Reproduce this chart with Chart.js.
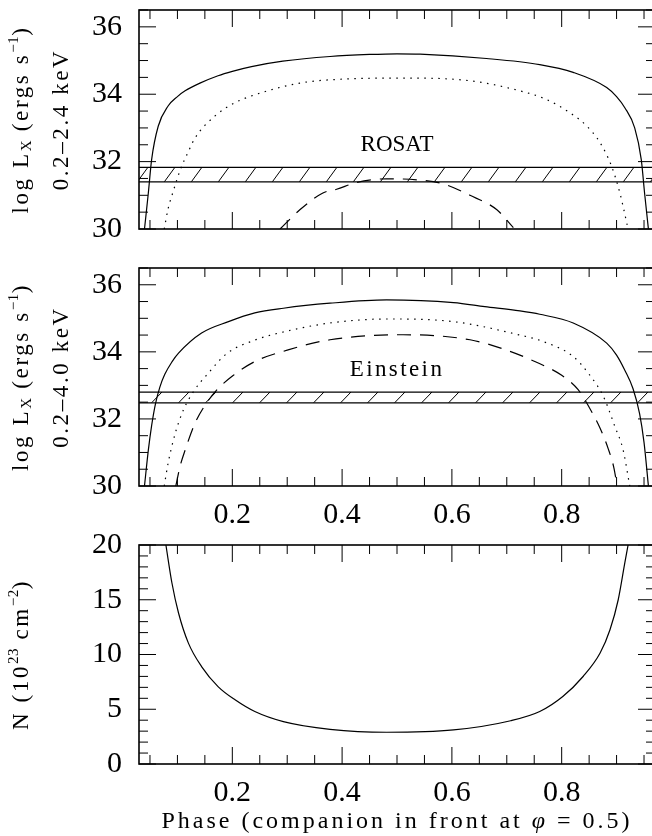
<!DOCTYPE html>
<html>
<head>
<meta charset="utf-8">
<script src="https://cdn.jsdelivr.net/npm/chart.js@4.4.0/dist/chart.umd.min.js"></script>
<style>
  html, body { margin: 0; padding: 0; background: #fff; overflow: hidden; }
  #wrap { position: relative; width: 652px; height: 836px; overflow: hidden; }
  canvas { position: absolute; left: 0; top: 0; }
</style>
</head>
<body>
<div id="wrap">
  <canvas id="rosat" width="660" height="836"></canvas>
  <canvas id="einstein" width="660" height="836"></canvas>
  <canvas id="column" width="660" height="836"></canvas>
</div>
<script>
// tick labels
var phaseTicks = [0.2, 0.4, 0.6, 0.8];
var lxTicks = [30, 32, 34, 36];
var nTicks = [0, 5, 10, 15, 20];

// ROSAT panel (0.2-2.4 keV)
var rosatSolidPhase = [0.040, 0.047, 0.053, 0.065, 0.083, 0.1, 0.114, 0.141, 0.174, 0.2, 0.235, 0.292, 0.378, 0.45, 0.5, 0.542, 0.663, 0.76, 0.821, 0.882, 0.9, 0.915, 0.933, 0.945, 0.951, 0.958];
var rosatSolidLx    = [30.0, 31.07, 32.06, 33.05, 33.65, 33.93, 34.1, 34.33, 34.55, 34.68, 34.82, 34.98, 35.12, 35.18, 35.2, 35.19, 35.06, 34.88, 34.65, 34.2, 33.93, 33.6, 33.0, 32.06, 31.07, 30.0];
var rosatDotPhase = [0.076, 0.083, 0.092, 0.105, 0.12, 0.132, 0.168, 0.205, 0.235, 0.323, 0.42, 0.511, 0.633, 0.724, 0.77, 0.815, 0.846, 0.870, 0.891, 0.906, 0.921];
var rosatDotLx    = [30.0, 30.6, 31.1, 31.75, 32.3, 32.7, 33.35, 33.75, 33.95, 34.33, 34.46, 34.48, 34.4, 34.1, 33.86, 33.45, 33.05, 32.56, 31.86, 31.07, 30.0];
var rosatDashPhase = [0.287, 0.323, 0.365, 0.39, 0.426, 0.481, 0.536, 0.584, 0.633, 0.682, 0.712];
var rosatDashLx    = [30.0, 30.57, 31.07, 31.18, 31.38, 31.49, 31.46, 31.34, 31.0, 30.57, 30.04];
var rosatBand = [31.4, 31.83];

// Einstein panel (0.2-4.0 keV)
var einSolidPhase = [0.040, 0.047, 0.053, 0.06, 0.068, 0.077, 0.09, 0.102, 0.144, 0.193, 0.241, 0.293, 0.378, 0.481, 0.603, 0.66, 0.724, 0.76, 0.821, 0.882, 0.9, 0.915, 0.93, 0.942, 0.95, 0.958];
var einSolidLx    = [30.0, 31.07, 31.8, 32.45, 32.95, 33.33, 33.7, 33.96, 34.56, 34.9, 35.16, 35.3, 35.45, 35.55, 35.47, 35.35, 35.22, 35.12, 34.86, 34.26, 33.9, 33.45, 32.9, 32.15, 31.3, 30.0];
var einDotPhase = [0.076, 0.083, 0.096, 0.111, 0.129, 0.156, 0.19, 0.241, 0.3, 0.378, 0.481, 0.603, 0.724, 0.766, 0.821, 0.851, 0.876, 0.897, 0.912, 0.924];
var einDotLx    = [30.0, 30.68, 31.57, 32.27, 32.81, 33.36, 33.95, 34.35, 34.62, 34.86, 34.98, 34.9, 34.5, 34.31, 33.86, 33.31, 32.67, 31.77, 31.07, 30.0];
var einDashPhase = [0.097, 0.105, 0.114, 0.132, 0.15, 0.171, 0.202, 0.241, 0.3, 0.378, 0.511, 0.633, 0.7, 0.75, 0.8, 0.83, 0.85, 0.87, 0.885, 0.895, 0.901];
var einDashLx    = [30.0, 30.6, 31.07, 31.87, 32.4, 32.85, 33.3, 33.71, 34.05, 34.36, 34.51, 34.36, 34.05, 33.72, 33.3, 32.87, 32.35, 31.72, 31.1, 30.55, 30.0];
var einBand = [32.48, 32.8];

// column density panel
var nPhase = [0.079, 0.09, 0.102, 0.12, 0.144, 0.174, 0.205, 0.241, 0.293, 0.378, 0.481, 0.603, 0.707, 0.76, 0.802, 0.839, 0.87, 0.888, 0.903, 0.915, 0.921];
var nValue = [20, 16.53, 13.79, 11.04, 8.9, 7.07, 5.86, 4.79, 3.87, 3.17, 2.9, 3.11, 3.95, 4.79, 6.16, 7.99, 10.13, 12.26, 15.0, 18.36, 20];

var phaseRange = [0.03, 0.97];
var serif = 'Liberation Serif';

function pts(xs, ys) {
  return xs.map(function (x, i) { return { x: x, y: ys[i] }; });
}
function flat(v) {
  return phaseRange.map(function (x) { return { x: x, y: v }; });
}
function hatch(ctx, w, h) {
  var c = document.createElement('canvas');
  c.width = w; c.height = h;
  var g = c.getContext('2d');
  g.strokeStyle = '#000';
  g.lineWidth = 1;
  for (var k = -1; k <= 1; k++) {
    g.beginPath();
    g.moveTo(k * w, h);
    g.lineTo((k + 1) * w, 0);
    g.stroke();
  }
  return ctx.createPattern(c, 'repeat');
}
function curve(data, dash) {
  return { data: data, borderColor: '#000', borderWidth: 1.2, borderDash: dash || [],
           pointRadius: 0, fill: false, cubicInterpolationMode: 'monotone' };
}
function bandLine(v, fill, bg) {
  return { data: flat(v), borderColor: '#000', borderWidth: 1.2, pointRadius: 0,
           fill: fill, backgroundColor: bg || 'transparent' };
}

var frameTicks = {
  id: 'frameTicks',
  afterDraw: function (chart, args, o) {
    var ctx = chart.ctx, a = chart.chartArea;
    var xs = chart.scales.x, ys = chart.scales.y;
    ctx.save();
    ctx.strokeStyle = '#000';
    ctx.lineWidth = 1;
    ctx.beginPath();
    for (var i = Math.ceil(xs.min / o.xStep); i * o.xStep <= xs.max + 1e-9; i++) {
      var v = i * o.xStep, px = xs.getPixelForValue(v);
      var r = v / o.xMajor, len = Math.abs(r - Math.round(r)) < 1e-6 ? 17 : 9;
      ctx.moveTo(px, a.bottom); ctx.lineTo(px, a.bottom - len);
      ctx.moveTo(px, a.top); ctx.lineTo(px, a.top + len);
    }
    for (var j = Math.ceil(ys.min / o.yStep); j * o.yStep <= ys.max + 1e-9; j++) {
      var w = j * o.yStep, py = ys.getPixelForValue(w);
      var q = w / o.yMajor, ln = Math.abs(q - Math.round(q)) < 1e-6 ? 17 : 9;
      ctx.moveTo(a.left, py); ctx.lineTo(a.left + ln, py);
      ctx.moveTo(a.right, py); ctx.lineTo(a.right - ln, py);
    }
    ctx.stroke();
    ctx.lineWidth = 1.6;
    ctx.strokeRect(a.left, a.top, a.right - a.left, a.bottom - a.top);
    ctx.restore();
  }
};

// text made of pieces with sub/superscripts, centred on (x, y)
function setPart(ctx, p, spacing) {
  ctx.font = (p.it ? 'italic ' : '') + p.s + 'px "' + serif + '"';
  ctx.letterSpacing = (p.sp !== undefined ? p.sp : spacing) + 'px';
}
function drawParts(ctx, parts, x, y, rot, spacing) {
  var total = 0;
  parts.forEach(function (p) {
    setPart(ctx, p, spacing);
    p.w = ctx.measureText(p.t).width;
    total += p.w;
  });
  ctx.save();
  ctx.translate(x, y);
  if (rot) ctx.rotate(rot);
  var cx = -total / 2;
  parts.forEach(function (p) {
    setPart(ctx, p, spacing);
    ctx.fillText(p.t, cx, p.dy || 0);
    cx += p.w;
  });
  ctx.restore();
}

var richText = {
  id: 'richText',
  afterDraw: function (chart, args, o) {
    var ctx = chart.ctx, a = chart.chartArea;
    ctx.save();
    ctx.fillStyle = '#000';
    ctx.textBaseline = 'middle';
    ctx.textAlign = 'left';
    o.yTitles.forEach(function (line) {
      drawParts(ctx, line.parts, line.x, (a.top + a.bottom) / 2, -Math.PI / 2, 2.6);
    });
    if (o.xTitle) {
      drawParts(ctx, o.xTitle.parts, (a.left + a.right) / 2, a.bottom + o.xTitle.gap, 0, o.xTitle.spacing);
    }
    if (o.label) {
      drawParts(ctx, [{ t: o.label.text, s: o.label.size }],
                chart.scales.x.getPixelForValue(o.label.at[0]),
                chart.scales.y.getPixelForValue(o.label.at[1]), 0, o.label.spacing);
    }
    ctx.restore();
  }
};

function makePanel(id, datasets, cfg) {
  var ctx = document.getElementById(id).getContext('2d');
  return new Chart(ctx, {
    type: 'line',
    data: { datasets: datasets(ctx) },
    plugins: [frameTicks, richText],
    options: {
      responsive: false,
      animation: false,
      devicePixelRatio: 1,
      layout: { padding: { top: cfg.top, bottom: 836 - cfg.bottom - cfg.xh, left: 0, right: 5 } },
      plugins: {
        legend: { display: false },
        tooltip: { enabled: false },
        frameTicks: cfg.ticks,
        richText: { yTitles: cfg.titles, label: cfg.label, xTitle: cfg.xTitle }
      },
      scales: {
        x: {
          type: 'linear', min: phaseRange[0], max: phaseRange[1],
          grid: { display: false, drawTicks: false }, border: { display: false },
          afterBuildTicks: function (s) { s.ticks = phaseTicks.map(function (v) { return { value: v }; }); },
          afterFit: function (s) { s.height = cfg.xh; s.paddingLeft = 0; s.paddingRight = 0; },
          ticks: { display: cfg.xLabels, padding: 11, color: '#000', font: { family: serif, size: 30 },
                   callback: function (v) { return String(v); } }
        },
        y: {
          min: cfg.yRange[0], max: cfg.yRange[1],
          grid: { display: false, drawTicks: false }, border: { display: false },
          afterBuildTicks: function (s) { s.ticks = cfg.yTicks.map(function (v) { return { value: v }; }); },
          afterFit: function (s) { s.width = 139; s.paddingTop = 0; s.paddingBottom = 0; },
          ticks: { padding: 17, color: '#000', font: { family: serif, size: 30 },
                   callback: function (v) { return String(v); } }
        }
      }
    }
  });
}

function lxTitle(band) {
  return [
    { x: 22, parts: [{ t: 'log L', s: 23 }, { t: 'X', s: 15, dy: 5, sp: 1 }, { t: ' (ergs s', s: 23 }, { t: '\u22121', s: 15, dy: -8, sp: 0.5 }, { t: ')', s: 23 }] },
    { x: 62, parts: [{ t: band, s: 23 }] }
  ];
}

makePanel('rosat', function (ctx) {
  return [
    curve(pts(rosatSolidPhase, rosatSolidLx)),
    curve(pts(rosatDotPhase, rosatDotLx), [1.5, 5.5]),
    curve(pts(rosatDashPhase, rosatDashLx), [14, 9]),
    bandLine(rosatBand[0], false),
    bandLine(rosatBand[1], '-1', hatch(ctx, 27, 37))
  ];
}, {
  top: 10, bottom: 229, xh: 0, xLabels: false, yRange: [30, 36.5], yTicks: lxTicks,
  ticks: { xStep: 0.05, xMajor: 0.2, yStep: 0.5, yMajor: 2 },
  titles: lxTitle('0.2\u20132.4 keV'),
  label: { text: 'ROSAT', at: [0.5, 32.5], size: 23, spacing: 0 }
});

makePanel('einstein', function (ctx) {
  return [
    curve(pts(einSolidPhase, einSolidLx)),
    curve(pts(einDotPhase, einDotLx), [1.5, 5.5]),
    curve(pts(einDashPhase, einDashLx), [14, 9]),
    bandLine(einBand[0], false),
    bandLine(einBand[1], '-1', hatch(ctx, 27, 28))
  ];
}, {
  top: 268, bottom: 486, xh: 40, xLabels: true, yRange: [30, 36.5], yTicks: lxTicks,
  ticks: { xStep: 0.05, xMajor: 0.2, yStep: 0.5, yMajor: 2 },
  titles: lxTitle('0.2\u20134.0 keV'),
  label: { text: 'Einstein', at: [0.5, 33.46], size: 23, spacing: 2.4 }
});

makePanel('column', function (ctx) {
  return [curve(pts(nPhase, nValue))];
}, {
  top: 545, bottom: 764, xh: 72, xLabels: true, yRange: [0, 20], yTicks: nTicks,
  ticks: { xStep: 0.05, xMajor: 0.2, yStep: 1, yMajor: 5 },
  titles: [{ x: 22, parts: [{ t: 'N (10', s: 23 }, { t: '23', s: 15, dy: -8, sp: 0.5 }, { t: ' cm', s: 23 }, { t: '\u22122', s: 15, dy: -8, sp: 0.5 }, { t: ')', s: 23 }] }],
  xTitle: { parts: [{ t: 'Phase (companion in front at ', s: 24 }, { t: '\u03c6', s: 24, it: true }, { t: ' = 0.5)', s: 24 }], gap: 58, spacing: 3 }
});
</script>
</body>
</html>
